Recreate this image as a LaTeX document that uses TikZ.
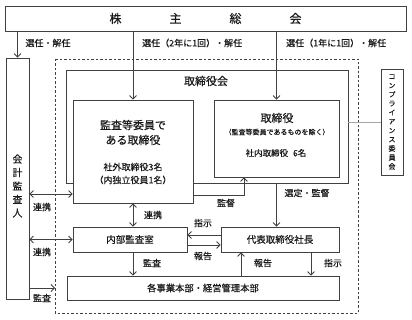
\documentclass[tikz,border=0pt]{standalone}
\usepackage{fontspec}
\setmainfont{Noto Sans CJK JP}[FakeBold=0.3]
\usetikzlibrary{arrows.meta}
\definecolor{ln}{HTML}{404040}
\definecolor{tx}{HTML}{1A1A1A}
\tikzset{
  box/.style={draw=ln, line width=0.8pt, fill=white, inner sep=0pt, text=tx, align=center},
  arr/.style={draw=ln, line width=0.8pt, -{Straight Barb[length=3.5pt,width=7pt]}},
  darr/.style={draw=ln, line width=0.8pt, {Straight Barb[length=3.5pt,width=7pt]}-{Straight Barb[length=3.5pt,width=7pt]}},
  lbl/.style={text=tx, inner sep=0pt, font=\fontsize{9}{10}\selectfont},
}
\begin{document}
\begin{tikzpicture}[x=1pt,y=-1pt]
\useasboundingbox[fill=white] (0,0) rectangle (412,320);
% dashed frame
\draw[ln, line width=0.8pt, dashed, dash pattern=on 2.5pt off 2pt] (55,59) rectangle (358,313);
% top box
\node[box, minimum width=401pt, minimum height=25pt, font=\fontsize{12}{12}\selectfont] (soukai) at (205.5,18.5) {株\hspace{48pt}主\hspace{48pt}総\hspace{48pt}会};
% accounting auditor
\node[box, minimum width=23pt, minimum height=241pt] (kaikei) at (17.5,178.5) {};
\node[lbl, align=center, font=\fontsize{10}{13.5}\selectfont] (kaikeit) at (17.5,186) {会\\計\\監\\査\\人};
% board
\node[draw=ln, line width=0.8pt, inner sep=0pt, minimum width=282pt, minimum height=113pt] (torikai) at (207,126.5) {};
\node[lbl, font=\fontsize{11}{12}\selectfont] (torikait) at (206,81) {取締役会};
\node[box, minimum width=120pt, minimum height=103pt] (kansa) at (133,151.5) {};
\node[lbl, align=center, font=\fontsize{11}{15}\selectfont] (kansat1) at (133,132.5) {監査等委員で\\ある取締役};
\node[lbl, align=center, font=\fontsize{9}{13}\selectfont] (kansat2) at (133,173.5) {社外取締役3名\\（内独立役員1名）};
\node[box, minimum width=125pt, minimum height=77pt] (tori) at (276.5,138.5) {};
\node[lbl, font=\fontsize{11}{12}\selectfont] (torit1) at (277,118) {取締役};
\node[lbl, font=\fontsize{7}{8}\selectfont] (torit2) at (277,132) {（監査等委員であるものを除く）};
\node[lbl, font=\fontsize{8.5}{10}\selectfont] (torit3) at (276,153) {社内取締役\hspace{5pt}6名};
% compliance
\node[box, minimum width=22pt, minimum height=106pt] (comp) at (392,122) {};
\node[lbl, align=center, font=\fontsize{7}{9}\selectfont] (compt) at (392,122) {コ\\ン\\プ\\ラ\\イ\\ア\\ン\\ス\\委\\員\\会};
% lower boxes
\node[box, minimum width=114pt, minimum height=25pt, font=\fontsize{9.5}{10}\selectfont] (naibu) at (130,239.5) {内部監査室};
\node[box, minimum width=118pt, minimum height=25pt, font=\fontsize{9.5}{10}\selectfont] (daihyo) at (280,239.5) {代表取締役社長};
\node[box, minimum width=272pt, minimum height=24pt, font=\fontsize{9.3}{10}\selectfont] (jigyo) at (203,288) {各事業本部・経営管理本部};
% connectors
\draw[arr] (kaikei.north |- soukai.south) -- (kaikei.north);
\draw[arr] (kansa.north |- soukai.south) -- (kansa.north);
\draw[arr] (tori.north |- soukai.south) -- (tori.north);
\draw[line width=0.6pt, draw=gray!70] (torikai.east |- comp.west) -- (comp.west);
\coordinate (kt) at (244,195);
\draw[arr] (kansa.east |- kt) -| (tori.south -| kt);
\draw[arr] (torikai.south -| tori.south) -- (daihyo.north -| tori.south);
\draw[darr] (kansa.south) -- (naibu.north -| kansa.south);
\draw[arr] (naibu.south -| kansa.south) -- (jigyo.north -| kansa.south);
\coordinate (c1) at (0,235);
\coordinate (c2) at (0,245);
\draw[arr] (daihyo.west |- c1) -- (naibu.east |- c1);
\draw[arr] (naibu.east |- c2) -- (daihyo.west |- c2);
\coordinate (c3) at (241,0);
\coordinate (c4) at (311,0);
\draw[arr] (jigyo.north -| c3) -- (daihyo.south -| c3);
\draw[arr] (daihyo.south -| c4) -- (jigyo.north -| c4);
\coordinate (c5) at (0,194);
\coordinate (c6) at (0,239.5);
\draw[darr] (kaikei.east |- c5) -- (kansa.west |- c5);
\draw[darr] (kaikei.east |- c6) -- (naibu.west |- c6);
\coordinate (dk) at (55,288);
\draw[arr] (kaikei.east |- dk) -- (dk);
% labels
\node[lbl] (l1) at (48,43) {選任・解任};
\node[lbl, anchor=west] (l2) at (142,43) {選任（2年に1回）・解任};
\node[lbl, anchor=west] (l3) at (286,43) {選任（1年に1回）・解任};
\node[lbl] (l4) at (226,203) {監督};
\node[lbl] (l5) at (307,193) {選定・監督};
\node[lbl] (l6) at (153,215) {連携};
\node[lbl] (l7) at (203,223) {指示};
\node[lbl] (l8) at (203,256) {報告};
\node[lbl] (l9) at (152,263) {監査};
\node[lbl] (l10) at (263,263) {報告};
\node[lbl] (l11) at (333,263) {指示};
\node[lbl] (l12) at (42,207) {連携};
\node[lbl] (l13) at (42,252) {連携};
\node[lbl] (l14) at (42,298) {監査};
\end{tikzpicture}
\end{document}
